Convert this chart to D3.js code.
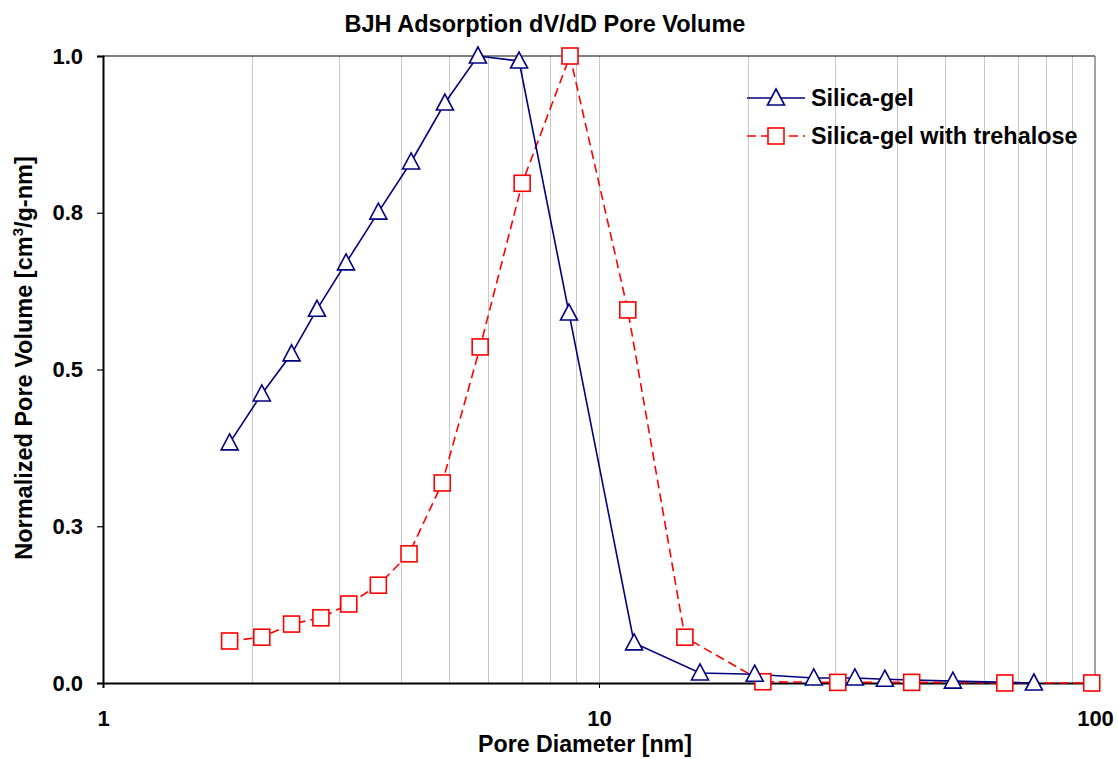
<!DOCTYPE html>
<html><head><meta charset="utf-8">
<script src="https://cdn.jsdelivr.net/npm/d3@7"></script>
<style>body{margin:0;background:#fff;} svg{display:block;font-family:"Liberation Sans",Arial,sans-serif;}</style>
</head><body>
<svg id="chart" width="1118" height="759"></svg>
<script>
const silicaX = [1.80,2.09,2.40,2.70,3.09,3.59,4.18,4.89,5.70,6.90,8.70,11.77,15.98,20.6,27.1,32.8,37.7,51.7,75.3];
const silicaY = [0.383,0.461,0.525,0.596,0.670,0.751,0.831,0.925,1.0,0.992,0.590,0.064,0.016,0.014,0.008,0.008,0.006,0.003,0.0];
const trehX = [1.80,2.09,2.40,2.75,3.13,3.59,4.14,4.83,5.76,7.0,8.74,11.43,14.9,21.4,30.3,42.7,65.8,98.5];
const trehY = [0.067,0.073,0.094,0.104,0.126,0.156,0.206,0.319,0.536,0.797,1.0,0.595,0.073,0.002,0.001,0.001,0.0,0.0];
const yTicks = [0,0.25,0.5,0.75,1.0];
const xTicks = [1,10,100];
const gridVals = [2,3,4,5,6,7,8,9,10,20,30,40,50,60,70,80,90];
const seriesNames = ["Silica-gel","Silica-gel with trehalose"];

const svg = d3.select("#chart");
const L=103, R=1095, T=56, B=683;
const x = d3.scaleLog().domain([1,100]).range([L,R]);
const y = d3.scaleLinear().domain([0,1]).range([B,T]);

// gridlines
svg.append("g").selectAll("line").data(gridVals).join("line")
  .attr("x1",d=>x(d)).attr("x2",d=>x(d)).attr("y1",T).attr("y2",B)
  .attr("stroke","#c8c8c8").attr("stroke-width",1).attr("shape-rendering","crispEdges");

// border top/right
svg.append("line").attr("x1",L).attr("x2",R).attr("y1",T).attr("y2",T).attr("stroke","#000").attr("stroke-width",1.2);
svg.append("line").attr("x1",R).attr("x2",R).attr("y1",T).attr("y2",B).attr("stroke","#666").attr("stroke-width",1.2);

// axes
const yAxis = d3.axisLeft(y).tickValues(yTicks).tickFormat(d3.format(".1f")).tickSizeOuter(0).tickSize(6).tickPadding(14);
const gy = svg.append("g").attr("transform",`translate(${L},0)`).call(yAxis);
gy.select(".domain").attr("stroke-width",2);
gy.selectAll(".tick line").attr("stroke-width",1.2);
gy.selectAll("text").attr("font-size",22).attr("font-weight","bold").attr("fill","#000");

const xAxis = d3.axisBottom(x).tickValues(xTicks).tickFormat(d3.format("d")).tickSizeOuter(0).tickSize(5).tickPadding(22);
const gx = svg.append("g").attr("transform",`translate(0,${B})`).call(xAxis);
gx.select(".domain").attr("stroke-width",2);
gx.selectAll("text").attr("font-size",22).attr("font-weight","bold").attr("fill","#000");

// lines
const line = d3.line().x(d=>x(d[0])).y(d=>y(d[1]));
const s1 = silicaX.map((v,i)=>[v,silicaY[i]]);
const s2 = trehX.map((v,i)=>[v,trehY[i]]);
svg.append("path").attr("d",line(s2)).attr("fill","none").attr("stroke","#ff0000").attr("stroke-width",1.6).attr("stroke-dasharray","9,5");
svg.append("path").attr("d",line(s1)).attr("fill","none").attr("stroke","#000080").attr("stroke-width",1.6);

function triPath(cx,cy){return `M${cx},${cy-9} L${cx+8.5},${cy+7} L${cx-8.5},${cy+7} Z`;}
svg.append("g").selectAll("rect").data(s2).join("rect")
  .attr("x",d=>x(d[0])-8).attr("y",d=>y(d[1])-8).attr("width",16).attr("height",16)
  .attr("fill","#fff").attr("stroke","#ff0000").attr("stroke-width",1.6);
svg.append("g").selectAll("path").data(s1).join("path")
  .attr("d",d=>triPath(x(d[0]),y(d[1])))
  .attr("fill","#fff").attr("stroke","#000080").attr("stroke-width",1.6);

// legend
const lg = svg.append("g");
lg.append("line").attr("x1",747).attr("x2",805).attr("y1",98).attr("y2",98).attr("stroke","#000080").attr("stroke-width",1.6);
lg.append("path").attr("d",triPath(776,98)).attr("fill","#fff").attr("stroke","#000080").attr("stroke-width",1.6);
lg.append("line").attr("x1",747).attr("x2",805).attr("y1",136).attr("y2",136).attr("stroke","#ff0000").attr("stroke-width",1.6).attr("stroke-dasharray","9,5");
lg.append("rect").attr("x",768).attr("y",128).attr("width",16).attr("height",16).attr("fill","#fff").attr("stroke","#ff0000").attr("stroke-width",1.6);
lg.selectAll("text").data(seriesNames).join("text")
  .attr("x",811).attr("y",(d,i)=>98+i*38).attr("dy","0.35em")
  .attr("font-size",23.4).attr("font-weight","bold").text(d=>d);

// title and labels
svg.append("text").attr("x",545).attr("y",32).attr("text-anchor","middle")
  .attr("font-size",23.5).attr("font-weight","bold").text("BJH Adsorption dV/dD Pore Volume");
svg.append("text").attr("x",585).attr("y",752).attr("text-anchor","middle")
  .attr("font-size",23.2).attr("font-weight","bold").text("Pore Diameter [nm]");
const yl = svg.append("text").attr("transform","translate(32,358) rotate(-90)").attr("text-anchor","middle")
  .attr("font-size",23.5).attr("font-weight","bold");
yl.append("tspan").text("Normalized Pore Volume [cm");
yl.append("tspan").attr("dy",-9).attr("font-size",15).text("3");
yl.append("tspan").attr("dy",9).text("/g-nm]");
</script>
</body></html>
